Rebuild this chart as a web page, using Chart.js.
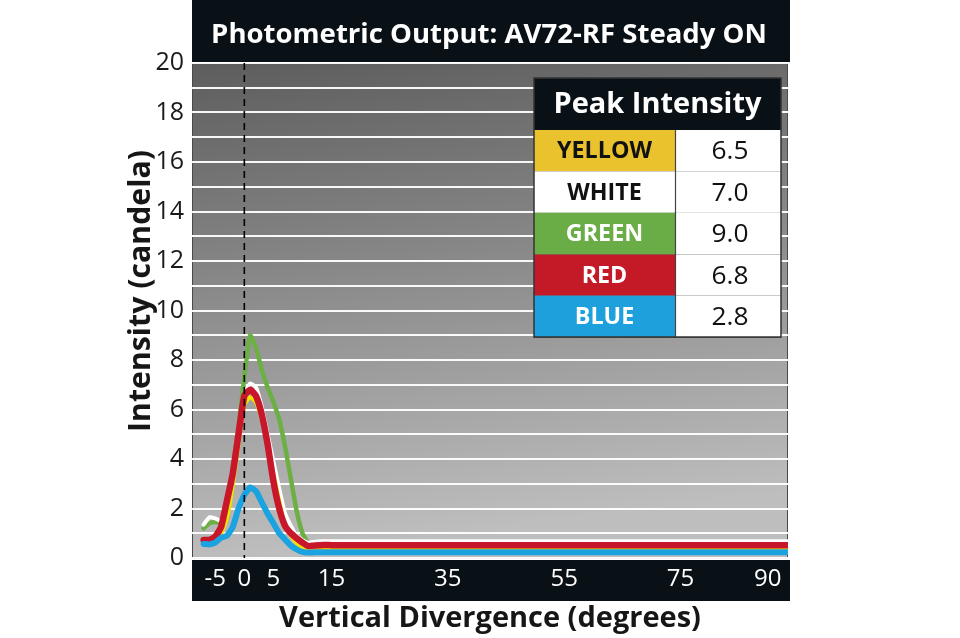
<!DOCTYPE html>
<html><head><meta charset="utf-8">
<script src="https://cdn.jsdelivr.net/npm/chart.js@4.4.1/dist/chart.umd.min.js"></script>
<style>html,body{margin:0;padding:0;background:#fff;}</style>
</head><body>
<canvas id="c" width="960" height="638"></canvas>
<script>
// ---------- data ----------
const titleText = 'Photometric Output: AV72-RF Steady ON';
const xTitleText = 'Vertical Divergence (degrees)';
const yTitleText = 'Intensity (candela)';
const xTickValues = [-5, 0, 5, 15, 35, 55, 75, 90];
const angles = [-7,-6,-5,-4,-3,-2,-1,0,1,2,3,4,5,6,7,8,9,10,11,12,13,15,20,30,40,50,60,70,80,90,95];
const yellowVals = [0.6,0.62,0.75,1.0,1.6,2.9,4.6,6.2,6.5,6.3,5.6,4.6,3.4,2.3,1.3,0.9,0.6,0.4,0.35,0.35,0.36,0.36,0.36,0.36,0.36,0.36,0.36,0.36,0.36,0.36,0.36];
const whiteVals  = [1.35,1.65,1.6,1.5,2.2,3.5,5.2,6.6,7.05,6.9,6.1,5.0,3.9,2.8,1.8,1.3,0.9,0.72,0.62,0.65,0.68,0.68,0.68,0.68,0.68,0.68,0.68,0.68,0.68,0.68,0.68];
const greenVals  = [1.2,1.4,1.45,1.4,1.6,3.6,5.3,7.3,9.0,8.5,7.6,6.9,6.3,5.6,4.5,3.2,1.9,1.0,0.6,0.45,0.42,0.42,0.42,0.42,0.42,0.42,0.42,0.42,0.42,0.42,0.42];
const redVals    = [0.73,0.73,0.86,1.25,2.3,3.4,5.0,6.55,6.8,6.55,5.8,4.6,3.1,2.0,1.3,1.0,0.8,0.62,0.48,0.5,0.52,0.52,0.52,0.52,0.52,0.52,0.52,0.52,0.52,0.52,0.52];
const blueVals   = [0.57,0.55,0.62,0.82,0.9,1.25,2.0,2.55,2.85,2.7,2.25,1.8,1.4,1.0,0.75,0.5,0.35,0.25,0.22,0.23,0.23,0.23,0.23,0.23,0.23,0.23,0.23,0.23,0.23,0.23,0.23];
const tableHeader = 'Peak Intensity';
const peakNames  = ['YELLOW','WHITE','GREEN','RED','BLUE'];
const peakValues = ['6.5','7.0','9.0','6.8','2.8'];

// ---------- styles ----------
const SANS = '"Open Sans", "DejaVu Sans", sans-serif';
const BAND = '#0a1116';
const cellFill = ['#eac22e','#ffffff','#6aac45','#c41a28','#1ea0dc'];
const cellText = ['#111111','#111111','#ffffff','#ffffff','#ffffff'];

const mctx = document.createElement('canvas').getContext('2d');
function fitSize(text, weight, target){
  mctx.font = weight + ' 100px ' + SANS;
  return 100 * target / mctx.measureText(text).width;
}
const titleSize = fitSize(titleText, 700, 556);
const xTitleSize = fitSize(xTitleText, 700, 422);
const yTitleSize = fitSize(yTitleText, 700, 282);
const headSize = fitSize(tableHeader, 700, 208);
const nameSize = fitSize('YELLOW', 700, 95);
const valSize = fitSize('6.5', 400, 37);

function series(vals){ return angles.map((a,i)=>({x:a, y:vals[i]})); }

const decor = {
  id:'decor',
  beforeDraw(chart){
    const {ctx, chartArea:a} = chart;
    ctx.save();
    ctx.fillStyle = '#ffffff'; ctx.fillRect(0,0,chart.width,chart.height);
    ctx.fillStyle = BAND; ctx.fillRect(a.left, 0, a.right - a.left + 2, a.top - 1);
    const g = ctx.createLinearGradient(a.left, a.top, a.left + 60, a.bottom);
    g.addColorStop(0, '#5d5d5d'); g.addColorStop(1, '#bebebe');
    ctx.fillStyle = g; ctx.fillRect(a.left, a.top, a.right - a.left, a.bottom - a.top);
    ctx.strokeStyle = '#4a4a4a'; ctx.lineWidth = 1;
    ctx.strokeRect(a.left + 0.5, a.top + 0.5, a.right - a.left - 1, a.bottom - a.top);
    ctx.fillStyle = BAND; ctx.fillRect(a.left, a.bottom + 2, a.right - a.left + 2, 41);
    ctx.fillStyle = '#ffffff';
    ctx.font = '700 ' + titleSize + 'px ' + SANS;
    ctx.textAlign = 'center'; ctx.textBaseline = 'middle';
    ctx.fillText(titleText, 489, 35);
    ctx.restore();
  },
  afterDatasetsDraw(chart){
    const {ctx, chartArea:a} = chart;
    const x0 = chart.scales.x.getPixelForValue(0);
    ctx.save();
    ctx.strokeStyle = '#000'; ctx.lineWidth = 1.6; ctx.setLineDash([7,5]);
    ctx.beginPath(); ctx.moveTo(x0, a.top); ctx.lineTo(x0, a.bottom); ctx.stroke();
    ctx.restore();
  },
  afterDraw(chart){
    const ctx = chart.ctx;
    ctx.save();
    ctx.translate(141, 291); ctx.rotate(-Math.PI/2);
    ctx.fillStyle = '#161616'; ctx.font = '700 ' + yTitleSize + 'px ' + SANS;
    ctx.textAlign = 'center'; ctx.textBaseline = 'middle';
    ctx.fillText(yTitleText, 0, 0);
    ctx.restore();
    const L = 534, R = 781, D = 675, T = 78, H = 130;
    const rows = [130, 171.3, 212.8, 254.6, 295.7, 337];
    ctx.save();
    ctx.fillStyle = BAND; ctx.fillRect(L, T, R - L, H - T);
    ctx.fillStyle = '#fff'; ctx.font = '700 ' + headSize + 'px ' + SANS;
    ctx.textAlign = 'center'; ctx.textBaseline = 'middle';
    ctx.fillText(tableHeader, (L + R)/2, 105);
    for (let i = 0; i < peakNames.length; i++){
      const y0 = rows[i], y1 = rows[i+1];
      ctx.fillStyle = cellFill[i]; ctx.fillRect(L, y0, D - L, y1 - y0);
      ctx.fillStyle = '#ffffff'; ctx.fillRect(D, y0, R - D, y1 - y0);
      ctx.fillStyle = cellText[i]; ctx.font = '700 ' + nameSize + 'px ' + SANS;
      ctx.fillText(peakNames[i], (L + D)/2, (y0 + y1)/2 + 1);
      ctx.fillStyle = '#111'; ctx.font = '400 ' + valSize + 'px ' + SANS;
      ctx.fillText(peakValues[i], (D + R)/2 + 2, (y0 + y1)/2 + 1);
      ctx.strokeStyle = '#555'; ctx.lineWidth = 1;
      ctx.beginPath(); ctx.moveTo(L, y1 + 0.5); ctx.lineTo(R, y1 + 0.5); ctx.stroke();
    }
    ctx.strokeStyle = '#444'; ctx.lineWidth = 1.2;
    ctx.beginPath(); ctx.moveTo(D + 0.5, H); ctx.lineTo(D + 0.5, rows[5]); ctx.stroke();
    ctx.strokeStyle = '#333'; ctx.lineWidth = 1.5;
    ctx.strokeRect(L, T, R - L, rows[5] - T);
    ctx.restore();
  }
};

const mk = (label, vals, color, width, order) => ({
  label, data: series(vals), borderColor: color, backgroundColor: color,
  borderWidth: width, pointRadius: 0, tension: 0.15, order,
  borderJoinStyle: 'round', borderCapStyle: 'round', fill: false
});

new Chart(document.getElementById('c'), {
  type: 'line',
  data: { datasets: [
    mk('Blue', blueVals, '#1aa3e0', 6, 1),
    mk('Red', redVals, '#c8162a', 6.5, 2),
    mk('Yellow', yellowVals, '#f4e200', 4, 3),
    mk('White', whiteVals, '#ffffff', 4, 4),
    mk('Green', greenVals, '#6cb043', 4.5, 5)
  ]},
  options: {
    responsive: false, animation: false, devicePixelRatio: 1,
    layout: { padding: { left: 0, right: 172, top: 63, bottom: 0 } },
    plugins: { legend: { display: false }, tooltip: { enabled: false } },
    scales: {
      x: {
        type: 'linear', min: -9, max: 93.5,
        afterBuildTicks: s => { s.ticks = xTickValues.map(v => ({ value: v })); },
        afterFit: s => { s.height = 80; },
        grid: { display: false, drawTicks: false },
        border: { display: false },
        ticks: { color: '#ffffff', font: { family: SANS, size: 24 }, padding: 7, maxRotation: 0, autoSkip: false, callback: v => String(v) },
        title: { display: true, text: xTitleText, color: '#161616',
          font: { family: SANS, size: xTitleSize, weight: '700', lineHeight: 1 }, padding: { top: 0, bottom: 5 } }
      },
      y: {
        min: 0, max: 20,
        afterFit: s => { s.width = 192; },
        grid: { color: 'rgba(255,255,255,0.95)', lineWidth: 2, drawTicks: false },
        border: { display: false },
        ticks: { stepSize: 1, autoSkip: false, color: '#1a1a1a', font: { family: SANS, size: 25 }, padding: 8,
          callback: v => (v % 2 === 0 ? String(v) : '') }
      }
    }
  },
  plugins: [decor]
});
</script>
</body></html>
